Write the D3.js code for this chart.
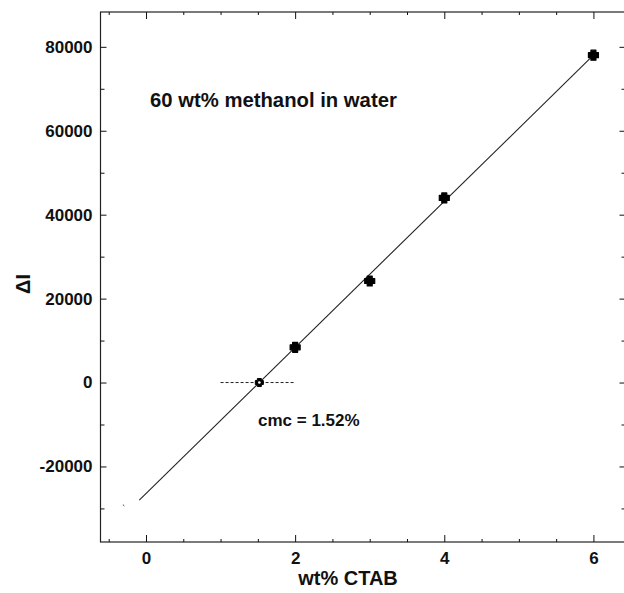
<!DOCTYPE html>
<html>
<head>
<meta charset="utf-8">
<script src="https://cdn.jsdelivr.net/npm/d3@7"></script>
<style>
  body { margin: 0; background: #fff; }
  svg text { font-family: "Liberation Sans", Arial, Helvetica, sans-serif; font-weight: bold; fill: #111; }
  .axis path { display: none; }
  .axis line { stroke: #111; }
</style>
</head>
<body>
<div id="chart"></div>
<script>
// measured points (wt% CTAB vs delta I)
var ctab = [2, 3, 4, 6];
var deltaI = [8400, 24200, 44000, 78000];
// cmc point where the fit crosses zero
var cmcX = [1.52];
var cmcY = [0];
// straight fit line end points
var fitX = [-0.09, 6];
var fitY = [-28000, 78000];
// short dashed guide at zero
var guideX = [1, 2];
var guideY = [0, 0];
// stray speck left of the line start
var speckX = [-0.31, -0.29];
var speckY = [-29100, -29400];

var xMajor = [0, 2, 4, 6];
var xMinor = [-0.5, 0.5, 1, 1.5, 2.5, 3, 3.5, 4.5, 5, 5.5];
var yMajor = [-20000, 0, 20000, 40000, 60000, 80000];
var yMinor = [-30000, -10000, 10000, 30000, 50000, 70000];

function plusSymbol(w, t) {
    return {
        draw: function(ctx) {
            var a = w / 2, b = t / 2;
            ctx.moveTo(-b, -a);
            ctx.lineTo(b, -a);
            ctx.lineTo(b, -b);
            ctx.lineTo(a, -b);
            ctx.lineTo(a, b);
            ctx.lineTo(b, b);
            ctx.lineTo(b, a);
            ctx.lineTo(-b, a);
            ctx.lineTo(-b, b);
            ctx.lineTo(-a, b);
            ctx.lineTo(-a, -b);
            ctx.lineTo(-b, -b);
            ctx.closePath();
        }
    };
}

function drawChart() {
    var width = 624, height = 593;
    var pLeft = 100.5, pRight = 625.5, pTop = 12, pBottom = 542;

    var x = d3.scaleLinear().domain([-0.61, 6.43]).range([pLeft, pRight]);
    var y = d3.scaleLinear().domain([-38000, 88300]).range([pBottom, pTop]);

    var svg = d3.select("#chart").append("svg")
        .attr("width", width)
        .attr("height", height);

    // frame
    svg.append("rect")
        .attr("x", pLeft).attr("y", pTop)
        .attr("width", pRight - pLeft).attr("height", pBottom - pTop)
        .attr("fill", "none")
        .attr("stroke", "#222")
        .attr("stroke-width", 1.2);

    // left axis
    svg.append("g").attr("class", "axis")
        .attr("transform", "translate(" + pLeft + ",0)")
        .call(d3.axisLeft(y).tickValues(yMajor).tickSize(-6).tickPadding(8).tickFormat(function(d) { return String(d); }))
        .selectAll("text").style("font-size", "17px");
    svg.append("g").attr("class", "axis")
        .attr("transform", "translate(" + pLeft + ",0)")
        .call(d3.axisLeft(y).tickValues(yMinor).tickSize(-4).tickFormat(""));

    // right axis ticks
    svg.append("g").attr("class", "axis")
        .attr("transform", "translate(" + pRight + ",0)")
        .call(d3.axisRight(y).tickValues(yMajor).tickSize(-6).tickFormat(""));
    svg.append("g").attr("class", "axis")
        .attr("transform", "translate(" + pRight + ",0)")
        .call(d3.axisRight(y).tickValues(yMinor).tickSize(-4).tickFormat(""));

    // bottom axis
    svg.append("g").attr("class", "axis")
        .attr("transform", "translate(0," + pBottom + ")")
        .call(d3.axisBottom(x).tickValues(xMajor).tickSize(-7).tickPadding(10).tickFormat(function(d) { return String(d); }))
        .selectAll("text").style("font-size", "17px");
    svg.append("g").attr("class", "axis")
        .attr("transform", "translate(0," + pBottom + ")")
        .call(d3.axisBottom(x).tickValues(xMinor).tickSize(-3).tickFormat(""));

    // top axis ticks
    svg.append("g").attr("class", "axis")
        .attr("transform", "translate(0," + pTop + ")")
        .call(d3.axisTop(x).tickValues(xMajor).tickSize(-7).tickFormat(""));
    svg.append("g").attr("class", "axis")
        .attr("transform", "translate(0," + pTop + ")")
        .call(d3.axisTop(x).tickValues(xMinor).tickSize(-3).tickFormat(""));

    var line = d3.line()
        .x(function(d) { return x(d[0]); })
        .y(function(d) { return y(d[1]); });

    // fit line
    svg.append("path")
        .datum(d3.zip(fitX, fitY))
        .attr("d", line)
        .attr("fill", "none")
        .attr("stroke", "#222")
        .attr("stroke-width", 1.1);

    svg.append("path")
        .datum(d3.zip(speckX, speckY))
        .attr("d", line)
        .attr("fill", "none")
        .attr("stroke", "#444")
        .attr("stroke-width", 1);

    // dashed guide
    svg.append("path")
        .datum(d3.zip(guideX, guideY))
        .attr("d", line)
        .attr("fill", "none")
        .attr("stroke", "#222")
        .attr("stroke-width", 1)
        .attr("stroke-dasharray", "3,2");

    svg.append("g").selectAll("path.pt")
        .data(d3.zip(ctab, deltaI))
        .enter()
        .append("path")
        .attr("class", "pt")
        .attr("d", d3.symbol().type(plusSymbol(10, 5)))
        .attr("transform", function(d) { return "translate(" + x(d[0]) + "," + y(d[1]) + ")"; })
        .attr("fill", "#000")
        .attr("stroke", "#000")
        .attr("stroke-width", 1.2)
        .attr("stroke-linejoin", "round");

    var cmcPts = d3.zip(cmcX, cmcY);
    svg.append("g").selectAll("path.cmc")
        .data(cmcPts)
        .enter()
        .append("path")
        .attr("class", "cmc")
        .attr("d", d3.symbol().type(plusSymbol(8, 4)))
        .attr("transform", function(d) { return "translate(" + x(d[0]) + "," + y(d[1]) + ")"; })
        .attr("fill", "#000")
        .attr("stroke", "#000")
        .attr("stroke-width", 1)
        .attr("stroke-linejoin", "round");
    svg.append("g").selectAll("circle")
        .data(cmcPts)
        .enter()
        .append("circle")
        .attr("cx", function(d) { return x(d[0]); })
        .attr("cy", function(d) { return y(d[1]); })
        .attr("r", 1.3)
        .attr("fill", "#fff");

    // text labels
    svg.append("text")
        .attr("x", 150).attr("y", 107)
        .style("font-size", "20.3px")
        .text("60 wt% methanol in water");

    svg.append("text")
        .attr("x", 258).attr("y", 426)
        .style("font-size", "17px")
        .text("cmc = 1.52%");

    svg.append("text")
        .attr("x", 348).attr("y", 585)
        .attr("text-anchor", "middle")
        .style("font-size", "20px")
        .text("wt% CTAB");

    svg.append("text")
        .attr("transform", "translate(30,284) rotate(-90)")
        .attr("text-anchor", "middle")
        .style("font-size", "20px")
        .text("ΔI");
}

drawChart();
</script>
</body>
</html>
